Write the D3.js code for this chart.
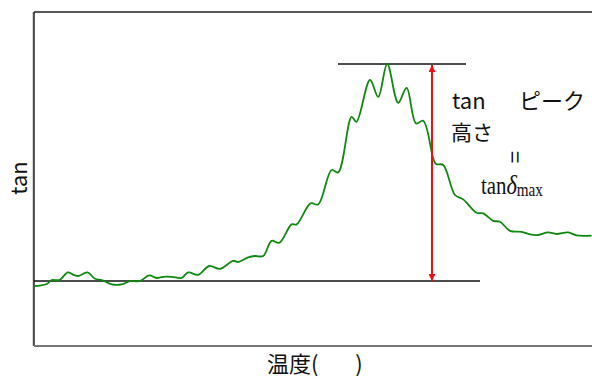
<!DOCTYPE html>
<html>
<head>
<meta charset="utf-8">
<script src="https://cdn.jsdelivr.net/npm/d3@7"></script>
<style>
  html, body { margin: 0; padding: 0; background: #fff; }
  svg { display: block; }
  text { font-family: "Noto Sans CJK JP", "Noto Sans", sans-serif; fill: #111; }
</style>
</head>
<body>
<svg id="chart" width="592" height="378"></svg>
<script>
// Temperature (°C) of each measured point
const temperature = [
  -49.8, -47, -43.6, -41.1, -37.3, -33.1, -30.5, -27.8, -23.3, -19.5,
  -16.1, -11.1, -6.1, -2, 3, 7.6, 11.3, 14.6, 18.8, 23.8,
  27.1, 32.1, 37.6, 43, 49.6, 52.1, 57.1, 60.5, 64.6, 68.8,
  72.6, 78.8, 81.3, 88.3, 92.1, 98.8, 102.1, 108.8, 111.2, 118,
  122.1, 126.6, 132.1, 136.3, 141, 144.6, 149.6, 151, 154.6, 160.5,
  164.6, 171.3, 174.6, 179.6, 183, 188, 193.8, 198, 202.1, 207.1,
  211.3, 217.1, 221.3, 228.8
];
// tanδ at each temperature
const tanDelta = [
  0.300, 0.302, 0.310, 0.330, 0.330, 0.368, 0.357, 0.350, 0.368, 0.336,
  0.330, 0.308, 0.308, 0.325, 0.325, 0.353, 0.340, 0.346, 0.346, 0.340,
  0.368, 0.356, 0.400, 0.386, 0.426, 0.420, 0.443, 0.450, 0.450, 0.526,
  0.516, 0.608, 0.608, 0.713, 0.708, 0.880, 0.868, 1.146, 1.121, 1.330,
  1.246, 1.410, 1.216, 1.291, 1.113, 1.126, 0.938, 0.910, 0.905, 0.755,
  0.733, 0.666, 0.663, 0.626, 0.621, 0.576, 0.571, 0.558, 0.555, 0.568,
  0.560, 0.568, 0.553, 0.552
];

// Baseline and peak levels used for the peak-height annotation
const baseLevel = 0.325;
const peakLevel = 1.41;
const baseLineSpan = [-50, 173];
const peakLineSpan = [102, 166];
const arrowTemp = 149;

const svg = d3.select("#chart");
const plotLeft = 34, plotRight = 592, plotTop = 12, plotBottom = 346;

const x = d3.scaleLinear().domain([-50, 229]).range([plotLeft, plotRight]);
const y = d3.scaleLinear().domain([0, 1.67]).range([plotBottom, plotTop]);

// Frame
svg.append("line").attr("x1", plotLeft - 1).attr("x2", plotLeft - 1).attr("y1", plotTop).attr("y2", plotBottom)
  .attr("stroke", "#aaa").attr("stroke-width", 1);
svg.append("line").attr("x1", plotLeft).attr("x2", plotRight).attr("y1", plotTop).attr("y2", plotTop)
  .attr("stroke", "#222").attr("stroke-width", 1.5);
svg.append("line").attr("x1", plotLeft).attr("x2", plotLeft).attr("y1", plotTop).attr("y2", plotBottom)
  .attr("stroke", "#222").attr("stroke-width", 1.5);
svg.append("line").attr("x1", plotLeft).attr("x2", plotRight).attr("y1", plotBottom).attr("y2", plotBottom)
  .attr("stroke", "#777").attr("stroke-width", 2);

// Baseline and peak reference lines
svg.append("line")
  .attr("x1", x(baseLineSpan[0])).attr("x2", x(baseLineSpan[1]))
  .attr("y1", y(baseLevel)).attr("y2", y(baseLevel))
  .attr("stroke", "#111").attr("stroke-width", 1.6);
svg.append("line")
  .attr("x1", x(peakLineSpan[0])).attr("x2", x(peakLineSpan[1]))
  .attr("y1", y(peakLevel)).attr("y2", y(peakLevel))
  .attr("stroke", "#111").attr("stroke-width", 1.6);

// tanδ curve
const data = temperature.map((t, i) => ({ t, v: tanDelta[i] }));
const line = d3.line().x(d => x(d.t)).y(d => y(d.v)).curve(d3.curveCatmullRom.alpha(0.5));
svg.append("path").datum(data)
  .attr("d", line)
  .attr("fill", "none")
  .attr("stroke", "#118811")
  .attr("stroke-width", 1.8)
  .attr("stroke-linejoin", "round");

// Double-headed red arrow for the peak height
const defs = svg.append("defs");
["start", "end"].forEach(k => {
  defs.append("marker")
    .attr("id", "arrow-" + k)
    .attr("viewBox", "0 0 10 10")
    .attr("refX", 10).attr("refY", 5)
    .attr("markerWidth", 7).attr("markerHeight", 7)
    .attr("markerUnits", "userSpaceOnUse")
    .attr("orient", k === "start" ? "auto-start-reverse" : "auto")
    .append("path").attr("d", "M0,0 L10,5 L0,10 Z").attr("fill", "#ee1111");
});
svg.append("line")
  .attr("x1", x(arrowTemp)).attr("x2", x(arrowTemp))
  .attr("y1", y(peakLevel) + 1).attr("y2", y(baseLevel))
  .attr("stroke", "#ee1111").attr("stroke-width", 2)
  .attr("marker-start", "url(#arrow-start)")
  .attr("marker-end", "url(#arrow-end)");

// Annotation: two-line caption
const cap = svg.append("text").attr("font-size", 22);
cap.append("tspan").attr("x", 452).attr("y", 109).text("tan");
cap.append("tspan").attr("x", 519).attr("y", 109).text("ピーク");
cap.append("tspan").attr("x", 451).attr("y", 140).attr("font-size", 21).text("高さ");

svg.append("text").attr("transform", "translate(507,157) rotate(90)")
  .attr("font-size", 22).attr("text-anchor", "middle").text("=");

const tm = svg.append("text")
  .attr("transform", "translate(481,194) scale(0.8,1)")
  .style("font-family", "'Liberation Serif', 'DejaVu Serif', serif")
  .attr("font-size", 26);
tm.append("tspan").text("tan");
tm.append("tspan").attr("font-style", "italic").attr("font-size", 28).text("δ");
tm.append("tspan").attr("font-size", 19).attr("dy", 2).text("max");

// Axis titles
svg.append("text").attr("transform", "translate(27,178) rotate(-90)")
  .attr("text-anchor", "middle").attr("font-size", 22).text("tan");
svg.append("text").attr("x", 267).attr("y", 372)
  .attr("font-size", 22).style("white-space", "pre").text("温度(　   )");
</script>
</body>
</html>
